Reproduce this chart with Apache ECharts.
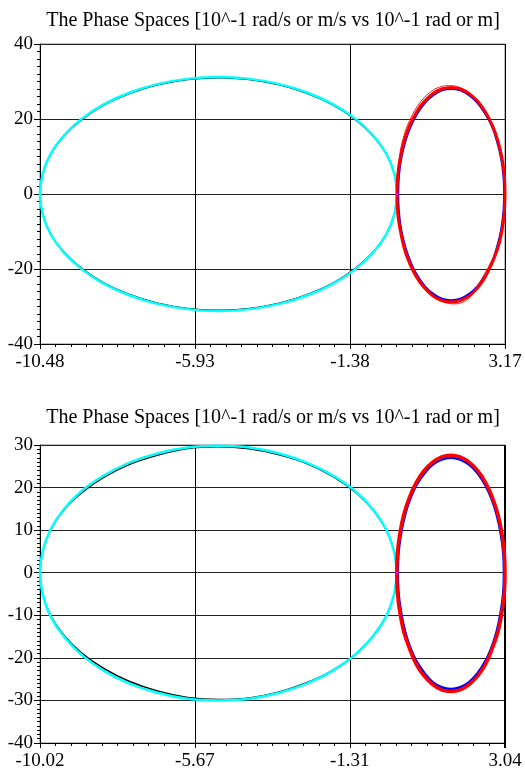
<!DOCTYPE html>
<html>
<head>
<meta charset="utf-8">
<script src="https://cdn.jsdelivr.net/npm/echarts@6/dist/echarts.min.js"></script>
<style>html,body{margin:0;padding:0;background:#fff;}#c{width:525px;height:774px;}</style>
</head>
<body>
<div id="c"></div>
<script>
// ---- Data ----
const titleText = 'The Phase Spaces [10^-1 rad/s or m/s vs 10^-1 rad or m]';

// Top panel axes
const topXTicks = [-10.48, -5.93, -1.38, 3.17];
const topYTicks = [-40, -20, 0, 20, 40];
// Bottom panel axes
const botXTicks = [-10.02, -5.67, -1.31, 3.04];
const botYTicks = [-40, -30, -20, -10, 0, 10, 20, 30];

// Top panel: left loop (black beneath cyan)
const topBlack = [[0.00,0],[-0.08,5.4],[-0.31,10.6],[-0.70,15.5],[-1.23,19.9],[-1.87,23.7],[-2.62,26.8],[-3.45,29.1],[-4.33,30.5],[-5.24,31.0],[-6.15,30.5],[-7.03,29.1],[-7.86,26.8],[-8.61,23.7],[-9.25,19.9],[-9.78,15.5],[-10.17,10.6],[-10.40,5.4],[-10.48,0],
  [-10.40,-5.4],[-10.17,-10.6],[-9.78,-15.5],[-9.25,-19.9],[-8.61,-23.7],[-7.86,-26.8],[-7.03,-29.1],[-6.15,-30.5],[-5.24,-31.0],[-4.33,-30.5],[-3.45,-29.1],[-2.62,-26.8],[-1.87,-23.7],[-1.23,-19.9],[-0.70,-15.5],[-0.31,-10.6],[-0.08,-5.4],[0.00,0]];
const topCyan = [[0.00,0],[-0.08,5.4],[-0.31,10.7],[-0.70,15.6],[-1.23,20.1],[-1.87,23.9],[-2.62,27.0],[-3.45,29.3],[-4.33,30.7],[-5.24,31.2],[-6.15,30.7],[-7.03,29.3],[-7.86,27.0],[-8.61,23.9],[-9.25,20.1],[-9.78,15.6],[-10.17,10.7],[-10.40,5.4],[-10.48,0],
  [-10.40,-5.4],[-10.17,-10.7],[-9.78,-15.6],[-9.25,-20.1],[-8.61,-23.9],[-7.86,-27.0],[-7.03,-29.3],[-6.15,-30.7],[-5.24,-31.2],[-4.33,-30.7],[-3.45,-29.3],[-2.62,-27.0],[-1.87,-23.9],[-1.23,-20.1],[-0.70,-15.6],[-0.31,-10.7],[-0.08,-5.4],[0.00,0]];
// Top panel: right loop (blue beneath red)
const topBlue = [[3.15,0],[3.13,4.9],[3.06,9.6],[2.94,14.1],[2.79,18.1],[2.59,21.5],[2.37,24.3],[2.12,26.4],[1.86,27.7],[1.59,28.1],[1.32,27.7],[1.06,26.4],[0.81,24.3],[0.59,21.5],[0.40,18.1],[0.24,14.1],[0.12,9.6],[0.05,4.9],[0.03,0],
  [0.05,-4.9],[0.12,-9.7],[0.24,-14.2],[0.40,-18.3],[0.59,-21.8],[0.81,-24.6],[1.06,-26.7],[1.32,-28.0],[1.59,-28.4],[1.86,-28.0],[2.12,-26.7],[2.37,-24.6],[2.59,-21.8],[2.79,-18.3],[2.94,-14.2],[3.06,-9.7],[3.13,-4.9],[3.15,0]];
const topRed = [[3.17,0],[3.15,4.9],[3.08,9.7],[2.96,14.2],[2.80,18.3],[2.60,21.8],[2.38,24.6],[2.13,26.7],[1.86,28.0],[1.59,28.4],[1.31,28.0],[1.04,26.7],[0.79,24.6],[0.57,21.8],[0.37,18.3],[0.21,14.2],[0.10,9.7],[0.02,4.9],[0.00,0],
  [0.02,-5.0],[0.10,-9.9],[0.21,-14.4],[0.37,-18.5],[0.57,-22.1],[0.79,-24.9],[1.04,-27.1],[1.31,-28.4],[1.59,-28.8],[1.86,-28.4],[2.13,-27.1],[2.36,-25.1],[2.56,-22.6],[2.76,-19.0],[2.96,-14.4],[3.08,-9.9],[3.15,-5.0],[3.17,0]];
const topRedThin = [[3.16,0],[3.14,5.0],[3.07,9.9],[2.95,14.5],[2.78,18.6],[2.57,22.1],[2.34,25.0],[2.08,27.2],[1.81,28.5],[1.53,28.9],[1.25,28.5],[0.98,27.2],[0.73,25.0],[0.51,22.1],[0.32,18.6],[0.17,14.5],[0.07,9.9],[0.01,5.0],[0.00,0],
  [0.03,-5.1],[0.12,-10.0],[0.25,-14.7],[0.42,-18.8],[0.63,-22.4],[0.87,-25.4],[1.13,-27.5],[1.41,-28.9],[1.69,-29.3],[1.97,-28.7],[2.17,-27.2],[2.30,-25.4],[2.50,-22.4],[2.72,-18.8],[2.93,-14.6],[3.07,-10.0],[3.14,-5.1],[3.16,0]];
const topDot = [[0.0, 0.0]];

// Bottom panel: left loop (black beneath cyan)
const botBlack = [[0.00,0],[-0.08,5.1],[-0.30,10.1],[-0.67,14.8],[-1.17,19.0],[-1.79,22.6],[-2.51,25.6],[-3.30,27.7],[-4.14,29.1],[-5.01,29.6],[-5.88,29.2],[-6.72,27.6],[-7.52,25.4],[-8.23,22.4],[-8.85,18.8],[-9.35,14.7],[-9.72,10.1],[-9.94,5.1],[-10.02,0],
  [-9.94,-5.2],[-9.72,-10.1],[-9.35,-14.7],[-8.85,-18.9],[-8.23,-22.5],[-7.52,-25.5],[-6.72,-27.8],[-5.88,-29.3],[-5.01,-29.8],[-4.14,-29.4],[-3.30,-28.0],[-2.51,-25.8],[-1.79,-22.9],[-1.17,-19.2],[-0.67,-14.9],[-0.30,-10.2],[-0.08,-5.2],[0.00,0]];
const botCyan = [[0.00,0],[-0.08,5.2],[-0.30,10.2],[-0.67,14.9],[-1.17,19.2],[-1.79,22.8],[-2.51,25.8],[-3.30,28.0],[-4.14,29.4],[-5.01,29.8],[-5.88,29.4],[-6.72,28.0],[-7.52,25.8],[-8.23,22.8],[-8.85,19.2],[-9.35,14.9],[-9.72,10.2],[-9.94,5.2],[-10.02,0],
  [-9.94,-5.2],[-9.72,-10.3],[-9.35,-15.0],[-8.85,-19.3],[-8.23,-23.0],[-7.52,-26.0],[-6.72,-28.2],[-5.88,-29.6],[-5.01,-30.0],[-4.14,-29.6],[-3.30,-28.2],[-2.51,-26.0],[-1.79,-23.0],[-1.17,-19.3],[-0.67,-15.0],[-0.30,-10.3],[-0.08,-5.2],[0.00,0]];
// Bottom panel: right loop (blue beneath red)
const botBlue = [[3.01,0],[2.99,4.7],[2.92,9.2],[2.81,13.5],[2.66,17.4],[2.48,20.7],[2.27,23.4],[2.03,25.4],[1.78,26.6],[1.52,27.0],[1.26,26.6],[1.01,25.4],[0.78,23.4],[0.56,20.7],[0.38,17.4],[0.23,13.5],[0.12,9.2],[0.05,4.7],[0.03,0],
  [0.05,-4.8],[0.12,-9.3],[0.23,-13.7],[0.38,-17.6],[0.56,-20.9],[0.78,-23.6],[1.01,-25.7],[1.26,-26.9],[1.52,-27.3],[1.78,-26.9],[2.03,-25.7],[2.27,-23.6],[2.48,-20.9],[2.66,-17.6],[2.81,-13.7],[2.92,-9.3],[2.99,-4.8],[3.01,0]];
const botRed = [[3.04,0],[3.02,4.8],[2.95,9.4],[2.84,13.8],[2.68,17.8],[2.50,21.1],[2.28,23.9],[2.04,25.9],[1.78,27.2],[1.52,27.6],[1.26,27.2],[1.00,25.9],[0.76,23.9],[0.54,21.1],[0.36,17.8],[0.20,13.8],[0.09,9.4],[0.02,4.8],[0.00,0],
  [0.02,-4.9],[0.09,-9.5],[0.20,-14.0],[0.36,-17.9],[0.54,-21.4],[0.76,-24.2],[1.00,-26.2],[1.26,-27.5],[1.52,-27.9],[1.78,-27.5],[2.04,-26.2],[2.28,-24.2],[2.50,-21.4],[2.68,-17.9],[2.84,-14.0],[2.95,-9.5],[3.02,-4.9],[3.04,0]];
const botDot = [[0.0, 0.0]];

// ---- Chart ----
const FONT = '"Liberation Serif", "Times New Roman", serif';
const chart = echarts.init(document.getElementById('c'), null, {renderer: 'canvas'});

function xAxisFor(gridIndex, ticks) {
  return {
    type: 'value', gridIndex,
    min: ticks[0], max: ticks[ticks.length - 1],
    interval: ticks[1] - ticks[0],
    axisLine: {show: true, onZero: false, lineStyle: {color: '#000', width: 1}},
    axisTick: {show: true, inside: false, length: 5, lineStyle: {color: '#000'}},
    minorTick: {show: true, splitNumber: 10, length: 3, lineStyle: {color: '#000'}},
    splitLine: {show: true, lineStyle: {color: '#000', width: 1}},
    axisLabel: {
      show: true, color: '#000', fontFamily: FONT, fontSize: 19, margin: 9,
      showMinLabel: true, showMaxLabel: true,
      formatter: v => {
        let best = ticks[0];
        ticks.forEach(t => { if (Math.abs(t - v) < Math.abs(best - v)) best = t; });
        return best.toFixed(2);
      }
    }
  };
}
function yAxisFor(gridIndex, ticks) {
  return {
    type: 'value', gridIndex,
    min: ticks[0], max: ticks[ticks.length - 1],
    interval: ticks[1] - ticks[0],
    axisLine: {show: true, onZero: false, lineStyle: {color: '#000', width: 1}},
    axisTick: {show: true, inside: false, length: 6, lineStyle: {color: '#000'}},
    minorTick: {show: true, splitNumber: 10, length: 3, lineStyle: {color: '#000'}},
    splitLine: {show: true, lineStyle: {color: '#222', width: 1}},
    axisLabel: {show: true, color: '#000', fontFamily: FONT, fontSize: 19, margin: 7,
      showMinLabel: true, showMaxLabel: true}
  };
}
function lineSeries(xi, data, color, width, z) {
  return {
    type: 'line', xAxisIndex: xi, yAxisIndex: xi, data: data,
    smooth: 0.4, showSymbol: false, symbol: 'none', z: z,
    lineStyle: {color: color, width: width}, animation: false, silent: true
  };
}

chart.setOption({
  animation: false,
  backgroundColor: '#fff',
  title: [
    {text: titleText, left: 268, top: 6, textAlign: 'center',
     textStyle: {fontFamily: FONT, fontSize: 20, fontWeight: 'normal', color: '#000'}},
    {text: titleText, left: 268, top: 403, textAlign: 'center',
     textStyle: {fontFamily: FONT, fontSize: 20, fontWeight: 'normal', color: '#000'}}
  ],
  grid: [
    {left: 40, top: 44, width: 465, height: 300, show: true, borderColor: '#808080', borderWidth: 1, backgroundColor: 'transparent'},
    {left: 40, top: 445, width: 465, height: 298, show: true, borderColor: '#808080', borderWidth: 1, backgroundColor: 'transparent'}
  ],
  xAxis: [xAxisFor(0, topXTicks), xAxisFor(1, botXTicks)],
  yAxis: [yAxisFor(0, topYTicks), yAxisFor(1, botYTicks)],
  series: [
    lineSeries(0, topBlack, '#000', 1.5, 2),
    lineSeries(0, topCyan, '#00ffff', 2.5, 3),
    lineSeries(0, topBlue, '#0000ff', 2.5, 4),
    lineSeries(0, topRedThin, '#ff2020', 1, 5),
    lineSeries(0, topRed, '#ff0000', 3, 6),
    {type: 'scatter', xAxisIndex: 0, yAxisIndex: 0, data: topDot, symbolSize: 3, itemStyle: {color: '#ff00ff'}, z: 7, silent: true},
    lineSeries(1, botBlack, '#000', 1.5, 2),
    lineSeries(1, botCyan, '#00ffff', 2.5, 3),
    lineSeries(1, botBlue, '#0000ff', 2.5, 4),
    lineSeries(1, botRed, '#ff0000', 3.5, 6),
    {type: 'scatter', xAxisIndex: 1, yAxisIndex: 1, data: botDot, symbolSize: 3, itemStyle: {color: '#ff00ff'}, z: 7, silent: true}
  ]
});
</script>
</body>
</html>
